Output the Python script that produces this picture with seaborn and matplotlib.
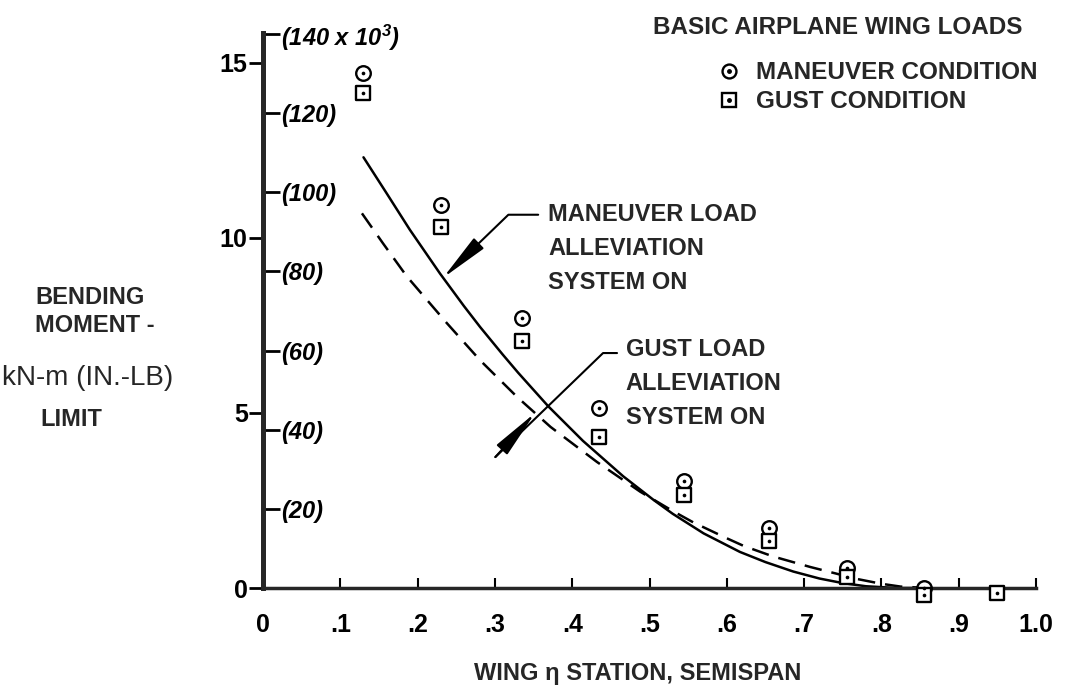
import matplotlib
matplotlib.use('Agg')
import matplotlib.pyplot as plt
from matplotlib import font_manager
from matplotlib.lines import Line2D
from matplotlib.ticker import FixedLocator, FixedFormatter
import seaborn as sns

# basic airplane wing loads (kN-m)
station = [0.13, 0.23, 0.335, 0.435, 0.545, 0.655, 0.755, 0.855]
maneuver = [14.7, 10.95, 7.7, 5.15, 3.07, 1.7, 0.56, 0.0]
gust_station = [0.13, 0.23, 0.335, 0.435, 0.545, 0.655, 0.755, 0.855, 0.95]
gust = [14.15, 10.3, 7.05, 4.3, 2.66, 1.34, 0.31, -0.2, -0.15]

# maneuver load alleviation system on (solid)
mla_x = [0.13, 0.16, 0.19, 0.229, 0.26, 0.281, 0.31, 0.33, 0.369, 0.414,
         0.466, 0.505, 0.53, 0.57, 0.617, 0.65, 0.686, 0.72, 0.75, 0.78,
         0.82, 0.86]
mla_y = [12.3, 11.27, 10.23, 8.98, 8.05, 7.45, 6.67, 6.15, 5.19, 4.2,
         3.19, 2.52, 2.12, 1.56, 1.03, 0.74, 0.47, 0.27, 0.14, 0.05,
         0.0, 0.0]

# gust load alleviation system on (dashed)
gla_x = [0.128, 0.155, 0.186, 0.238, 0.281, 0.329, 0.372, 0.432, 0.488, 0.53,
         0.557, 0.60, 0.622, 0.66, 0.708, 0.74, 0.768, 0.80, 0.825, 0.86]
gla_y = [10.7, 9.85, 8.9, 7.56, 6.5, 5.45, 4.6, 3.6, 2.75, 2.2,
         1.87, 1.42, 1.2, 0.9, 0.6, 0.42, 0.26, 0.12, 0.04, 0.0]

x_ticks = [0, .1, .2, .3, .4, .5, .6, .7, .8, .9, 1.0]
x_tick_labels = ['0', '.1', '.2', '.3', '.4', '.5', '.6', '.7', '.8', '.9', '1.0']
y_ticks = [0, 5, 10, 15]
inlb_ticks = [20, 40, 60, 80, 100, 120, 140]
inlb_labels = ['(20)', '(40)', '(60)', '(80)', '(100)', '(120)', '(140 x 10$^3$)']
KNM_TO_KINLB = 8.8507  # 1 kN-m in thousands of in-lb


def pick_font(names):
    for n in names:
        try:
            font_manager.findfont(n, fallback_to_default=False)
            return n
        except ValueError:
            pass
    return 'DejaVu Sans'


sns.set_style('ticks')
main_font = pick_font(['Liberation Sans Narrow', 'Liberation Sans'])
plt.rcParams['font.family'] = [main_font, 'DejaVu Sans']
plt.rcParams['mathtext.default'] = 'regular'
plt.rcParams['font.weight'] = 'bold'

W, H = 1070, 695
fig = plt.figure(figsize=(W / 100, H / 100), dpi=100)
ax = fig.add_axes([263 / W, 1 - 588 / H, (1036 - 263) / W, (588 - 33) / H])

# curves
sns.lineplot(x=mla_x, y=mla_y, sort=False, estimator=None, color='black',
             lw=1.8, ax=ax)
sns.lineplot(x=gla_x, y=gla_y, sort=False, estimator=None, color='black',
             lw=1.8, linestyle=(0, (7, 4)), ax=ax)

# points, open marker plus centre dot
sns.scatterplot(x=station, y=maneuver, marker='o', s=110, color='white',
                edgecolor='black', linewidth=1.7, ax=ax, zorder=4, clip_on=False)
sns.scatterplot(x=gust_station, y=gust, marker='s', s=105, color='white',
                edgecolor='black', linewidth=1.7, ax=ax, zorder=4, clip_on=False)
sns.scatterplot(x=station + gust_station, y=maneuver + gust, marker='o', s=7,
                color='black', linewidth=0, ax=ax, zorder=5, clip_on=False)

ax.set_xlim(0, 1.0)
ax.set_ylim(0, 15.85)
sns.despine(ax=ax)
ax.spines['left'].set_linewidth(3.5)
ax.spines['bottom'].set_linewidth(2.5)

ax.set_xticks(x_ticks)
ax.set_xticklabels(x_tick_labels)
ax.set_yticks(y_ticks)
ax.tick_params(axis='x', direction='in', length=7, width=1.5, pad=18,
               labelsize=18, colors='black')
ax.tick_params(axis='y', direction='out', length=10, width=2, pad=1,
               labelsize=18, colors='black')

# in-lb scale on the same spine, labels inside
sec = ax.secondary_yaxis(0.0, functions=(lambda v: v * KNM_TO_KINLB,
                                         lambda v: v / KNM_TO_KINLB))
sec.set_alignment('right')
sec.yaxis.set_major_locator(FixedLocator(inlb_ticks))
sec.yaxis.set_major_formatter(FixedFormatter(inlb_labels))
sec.spines['right'].set_linewidth(3.5)
sec.tick_params(axis='y', direction='out', length=12, width=2, pad=1,
                labelsize=17, colors='black')
for t in sec.get_yticklabels():
    t.set_fontstyle('italic')

ax.set_xlabel('WING η STATION, SEMISPAN', fontsize=17, fontweight='bold')
ax.xaxis.set_label_coords((638 - 263) / 773, (588 - 662) / 555)

# y label block
fig.text(35 / W, 1 - 297 / H, 'BENDING', fontsize=17, va='center', ha='left')
fig.text(35 / W, 1 - 326 / H, 'MOMENT -', fontsize=17, va='center', ha='left')
fig.text(2 / W, 1 - 378 / H, 'kN-m (IN.-LB)', fontsize=20, va='center',
         ha='left', fontweight='normal')
fig.text(40 / W, 1 - 420 / H, 'LIMIT', fontsize=17, va='center', ha='left')

# callouts
ax.text(0.369, 11.0, 'MANEUVER LOAD\nALLEVIATION\nSYSTEM ON', fontsize=17,
        va='top', ha='left', linespacing=1.62)
ax.annotate('', xy=(0.233, 8.86), xytext=(0.356, 10.66),
            arrowprops=dict(arrowstyle='-|>,head_length=1.5,head_width=0.22',
                            connectionstyle='angle,angleA=180,angleB=44,rad=0',
                            color='black', lw=1.5, shrinkA=0, shrinkB=0,
                            mutation_scale=20))
ax.text(0.469, 7.14, 'GUST LOAD\nALLEVIATION\nSYSTEM ON', fontsize=17,
        va='top', ha='left', linespacing=1.62)
ax.annotate('', xy=(0.3006, 3.74), xytext=(0.458, 6.71),
            arrowprops=dict(arrowstyle='-',
                            connectionstyle='angle,angleA=180,angleB=44,rad=0',
                            color='black', lw=1.5, shrinkA=0, shrinkB=0))
ax.annotate('', xy=(0.352, 5.0), xytext=(0.3006, 3.74),
            arrowprops=dict(arrowstyle='-|>,head_length=1.5,head_width=0.22',
                            color='black', lw=1.5, shrinkA=0, shrinkB=0,
                            mutation_scale=20))

# legend
fig.text(653 / W, 1 - 27 / H, 'BASIC AIRPLANE WING LOADS', fontsize=17.5,
         va='center', ha='left')
circ = Line2D([], [], marker='o', ms=10, mfc='white', mec='black', mew=1.7, ls='')
sq = Line2D([], [], marker='s', ms=9.5, mfc='white', mec='black', mew=1.7, ls='')
dot = Line2D([], [], marker='o', ms=2.5, color='black', ls='')
leg = ax.legend([(circ, dot), (sq, dot)], ['MANEUVER CONDITION', 'GUST CONDITION'],
                loc='upper left', bbox_to_anchor=(705 / W, 1 - 49 / H),
                bbox_transform=fig.transFigure, frameon=False, handlelength=1.0,
                handletextpad=0.6, borderpad=0, labelspacing=0.25,
                prop={'size': 17.5, 'weight': 'bold'})

fig.savefig('out.png', dpi=100)
